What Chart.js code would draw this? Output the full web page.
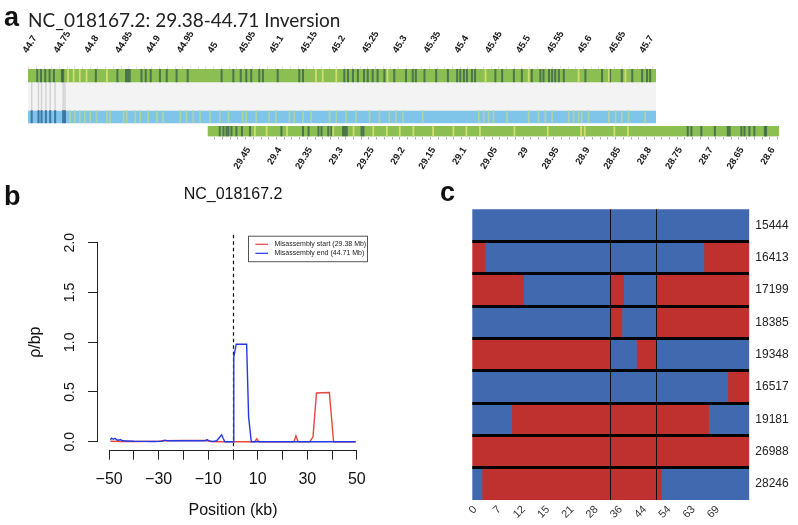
<!DOCTYPE html>
<html>
<head>
<meta charset="utf-8">
<title>NC_018167.2 inversion</title>
<script src="https://cdn.jsdelivr.net/npm/chart.js@4.4.1/dist/chart.umd.min.js"></script>
<style>
  html, body { margin: 0; padding: 0; background: #fff; }
  body { position: relative; width: 798px; height: 525px; overflow: hidden; font-family: "Liberation Sans", Arial, sans-serif; }
  .box { position: absolute; }
  .tag { position: absolute; z-index: 2; font-weight: bold; font-size: 27px; line-height: 27px; color: #111; }
</style>
</head>
<body>
<div class="box" style="left:0;top:0;width:798px;height:180px"><canvas id="trackChart"></canvas></div>
<div class="box" style="left:0;top:180px;width:440px;height:345px"><canvas id="rhoChart"></canvas></div>
<div class="box" style="left:440px;top:180px;width:358px;height:345px"><canvas id="haploChart"></canvas></div>
<div class="tag" style="left:4px;top:4px">a</div>
<div class="tag" style="left:4px;top:183px">b</div>
<div class="tag" style="left:440px;top:179px">c</div>
<script>
// ---------- panel a: alignment tracks (Mb) ----------
const topTickLabels = ['44.7', '44.75', '44.8', '44.85', '44.9', '44.95', '45', '45.05', '45.1', '45.15',
  '45.2', '45.25', '45.3', '45.35', '45.4', '45.45', '45.5', '45.55', '45.6', '45.65', '45.7'];
const bottomTickLabels = ['29.45', '29.4', '29.35', '29.3', '29.25', '29.2', '29.15', '29.1', '29.05', '29',
  '28.95', '28.9', '28.85', '28.8', '28.75', '28.7', '28.65', '28.6'];
const topSpan = [44.699, 45.717];
const bottomSpan = [28.585, 29.511];

const topDark = [44.714, 44.720, 44.727, 44.734, 44.741, 44.754, 44.756, 44.809, 44.844, 44.858, 44.861,
  44.864, 44.883, 44.890, 44.898, 44.913, 44.924, 44.940, 44.958, 45.013, 45.032, 45.044, 45.053, 45.061,
  45.074, 45.080, 45.104, 45.139, 45.145, 45.212, 45.218, 45.226, 45.234, 45.244, 45.250, 45.258, 45.266,
  45.277, 45.293, 45.312, 45.323, 45.328, 45.342, 45.361, 45.380, 45.395, 45.400, 45.406, 45.411, 45.419,
  45.424, 45.457, 45.468, 45.487, 45.500, 45.516, 45.530, 45.535, 45.544, 45.549, 45.554, 45.560, 45.568,
  45.603, 45.630, 45.643, 45.662, 45.679, 45.695, 45.703, 45.708];
const topLight = [44.764, 44.773, 44.783, 44.794, 44.827, 45.166, 45.177, 45.199, 45.282, 45.441, 45.511,
  45.592, 45.641, 45.668];
const blueDark = [44.705, 44.716, 44.721, 44.728, 44.735, 44.743, 44.756, 44.759];
const blueLight = [44.767, 44.775, 44.783, 44.791, 44.800, 44.810, 44.827, 44.832, 44.854, 44.859, 44.873,
  44.881, 44.894, 44.908, 44.918, 44.946, 44.956, 44.967, 44.978, 44.994, 45.010, 45.024, 45.047, 45.053,
  45.069, 45.090, 45.101, 45.123, 45.131, 45.145, 45.158, 45.188, 45.199, 45.215, 45.231, 45.253, 45.269,
  45.285, 45.296, 45.307, 45.339, 45.430, 45.438, 45.446, 45.454, 45.476, 45.511, 45.527, 45.538, 45.549,
  45.576, 45.584, 45.592, 45.597, 45.608, 45.641, 45.652, 45.662, 45.673, 45.700];
const linkPos = [44.705, 44.716, 44.721, 44.728, 44.735, 44.743, 44.756, 44.759];
const bottomDark = [29.492, 29.486, 29.481, 29.478, 29.473, 29.465, 29.456, 29.443, 29.392, 29.357, 29.348,
  29.332, 29.327, 29.316, 29.311, 29.292, 29.289, 29.286, 29.262, 29.259, 28.733, 28.727, 28.711, 28.689,
  28.668, 28.665, 28.646, 28.641, 28.633, 28.625, 28.608, 28.606];
const bottomLight = [29.435, 29.416, 29.383, 29.308, 29.275, 29.243, 29.221, 29.200, 29.178, 29.146, 29.113,
  29.092, 29.070, 29.014, 28.960, 28.906, 28.900, 28.852, 28.830];

// ---------- panel b: rho per bp around the breakpoints ----------
const posStart = [-49.5, -45, -40, -30, -28.5, -20, -11, -9, -5, 0, 8.8, 9.6, 10.4, 24.6, 25.4, 26.3, 31,
  32.3, 33.7, 38.9, 40.6, 45, 49.5];
const rhoStart = [0.005, 0.003, 0.002, 0.004, 0.01, 0.012, 0.012, 0.002, 0, 0, 0, 0.03, 0, 0, 0.06, 0, 0,
  0.05, 0.49, 0.495, 0, 0, 0];
const posEnd = [-49.5, -49, -48.3, -47.6, -47, -46.2, -45.4, -44.6, -43, -40, -36, -32, -28.6, -27.6, -26.6,
  -20, -15, -11.2, -10.5, -9.7, -8, -6.6, -5.4, -4.6, -3.9, -3.3, -1, 0, 0.3, 1.3, 5.5, 6.3, 7.4, 12, 20,
  30, 40, 49.5];
const rhoEnd = [0.02, 0.035, 0.025, 0.035, 0.02, 0.015, 0.022, 0.01, 0.008, 0.005, 0.004, 0.003, 0.005,
  0.016, 0.01, 0.01, 0.01, 0.01, 0.022, 0.008, 0.003, 0.01, 0.045, 0.07, 0.03, 0, 0, 0, 0.85, 0.98, 0.98,
  0.25, 0, 0, 0, 0, 0, 0];
const positionTicks = [-50, -40, -30, -20, -10, 0, 10, 20, 30, 40, 50];
const positionLabels = [-50, -30, -10, 10, 30, 50];
const rhoTicks = [0, 0.5, 1, 1.5, 2];

// ---------- panel c: haplotype blocks per sample ----------
const sampleIds = ['15444', '16413', '17199', '18385', '19348', '16517', '19181', '26988', '28246'];
const markerLabels = ['0', '7', '12', '15', '21', '28', '36', '44', '54', '63', '69'];
const markerStep = 7;
const markerCount = 80;
const haplotypeBlocks = [
  [[0, 80, 'B']],
  [[0, 3.9, 'R'], [3.9, 66.9, 'B'], [66.9, 80, 'R']],
  [[0, 15, 'R'], [15, 40, 'B'], [40, 43.9, 'R'], [43.9, 53.2, 'B'], [53.2, 80, 'R']],
  [[0, 40, 'B'], [40, 43.4, 'R'], [43.4, 53.2, 'B'], [53.2, 80, 'R']],
  [[0, 40, 'R'], [40, 47.4, 'B'], [47.4, 53.2, 'R'], [53.2, 80, 'B']],
  [[0, 73.8, 'B'], [73.8, 80, 'R']],
  [[0, 11.4, 'B'], [11.4, 68.5, 'R'], [68.5, 80, 'B']],
  [[0, 80, 'R']],
  [[0, 2.8, 'B'], [2.8, 54.8, 'R'], [54.8, 80, 'B']]
];
const breakpoints = [40, 53.2];

Chart.defaults.font.family = '"Liberation Sans", Arial, sans-serif';
Chart.defaults.animation = false;
Chart.defaults.plugins.legend.display = false;
Chart.defaults.plugins.tooltip.enabled = false;

// ---------- panel a chart ----------
function buildTicks(labels, from, to, step) {
  const ticks = [];
  for (let k = 0; from + k * step <= to + 1e-9; k++) {
    const value = +(from + k * step).toFixed(4);
    const idx = labels.findIndex(l => Math.abs(Number(l) - value) < 1e-6);
    ticks.push({ value, text: idx >= 0 ? labels[idx] : '' });
  }
  return ticks;
}

function blockBar(span, row, thickness, color, axis) {
  return { data: [{ x: span, y: row }], backgroundColor: color, barThickness: thickness,
    grouped: false, xAxisID: axis, order: 2 };
}

function stripeBars(positions, row, thickness, color, axis, half) {
  return { data: positions.map(p => ({ x: [p - half, p + half], y: row })), backgroundColor: color,
    barThickness: thickness, grouped: false, xAxisID: axis, order: 1 };
}

new Chart(document.getElementById('trackChart'), {
  type: 'bar',
  data: {
    datasets: [
      blockBar(topSpan, 6.5, 13, '#8DBE52', 'x'),
      blockBar(topSpan, 27.2, 28.4, '#F3F3F3', 'x'),
      blockBar(topSpan, 47.6, 12.6, '#7FC4E9', 'x'),
      blockBar(bottomSpan, 62.3, 10, '#8DBE52', 'x2'),
      stripeBars(topLight, 6.5, 13, 'rgba(214,226,112,0.9)', 'x', 0.0009),
      stripeBars(topDark, 6.5, 13, 'rgba(48,92,72,0.72)', 'x', 0.0011),
      stripeBars(linkPos, 27.2, 28.4, 'rgba(160,160,160,0.4)', 'x', 0.0006),
      stripeBars(blueLight, 47.6, 12.6, 'rgba(185,214,150,0.85)', 'x', 0.0008),
      stripeBars(blueDark, 47.6, 12.6, 'rgba(40,92,140,0.75)', 'x', 0.0011),
      stripeBars(bottomLight, 62.3, 10, 'rgba(214,226,112,0.9)', 'x2', 0.0009),
      stripeBars(bottomDark, 62.3, 10, 'rgba(48,92,72,0.72)', 'x2', 0.0011)
    ]
  },
  options: {
    indexAxis: 'y',
    responsive: true,
    maintainAspectRatio: false,
    layout: { padding: { left: 28, right: 19, top: 0, bottom: 0 } },
    plugins: {
      title: {
        display: true, align: 'start', text: 'NC_018167.2: 29.38-44.71 Inversion', color: '#222',
        font: { family: 'Lato', size: 19, weight: 'normal' }, padding: { top: 9.2, bottom: 0 }
      }
    },
    scales: {
      x: {
        type: 'linear', position: 'top', min: 44.699, max: 45.917,
        afterBuildTicks: s => { s.ticks = buildTicks(topTickLabels, 44.7, 45.7125, 0.0125); },
        afterFit: s => { s.height = 37; s.paddingLeft = 0; s.paddingRight = 0; },
        border: { display: false },
        grid: { drawOnChartArea: false, drawTicks: true, tickLength: 3, color: '#dedede', lineWidth: 0.8 },
        ticks: {
          autoSkip: false, minRotation: 58, maxRotation: 58, padding: 10.8, labelOffset: 6.2,
          color: '#1a1a1a', font: { size: 9.5, weight: 'bold' }, callback: (v, i, t) => t[i].text
        }
      },
      x2: {
        type: 'linear', position: 'bottom', reverse: true, min: 28.585, max: 29.803,
        afterBuildTicks: s => { s.ticks = buildTicks(bottomTickLabels, 28.5875, 29.5, 0.0125); },
        afterFit: s => { s.height = 43.5; s.paddingLeft = 0; s.paddingRight = 0; },
        border: { display: false },
        grid: { drawOnChartArea: false, drawTicks: true, tickLength: 3, color: '#9a9a9a', lineWidth: 0.8 },
        ticks: {
          autoSkip: false, minRotation: 58, maxRotation: 58, padding: 5.7, labelOffset: 3,
          color: '#1a1a1a', font: { size: 9.5, weight: 'bold' }, callback: (v, i, t) => t[i].text
        }
      },
      y: { type: 'linear', min: 0, max: 67.5, reverse: true, offset: false, display: false }
    }
  }
});

// ---------- panel b chart ----------
const fmtMinus = v => (v < 0 ? '\u2212' + Math.abs(v) : String(v));

const rStyle = {
  id: 'rStyle',
  beforeDatasetsDraw(chart) {
    const { ctx, chartArea: a, scales: { x } } = chart;
    const x0 = Math.round(x.getPixelForValue(0)) + 0.5;
    ctx.save();
    ctx.strokeStyle = '#111';
    ctx.lineWidth = 1.2;
    ctx.setLineDash([3.5, 3]);
    ctx.beginPath();
    ctx.moveTo(x0, a.top);
    ctx.lineTo(x0, a.bottom);
    ctx.stroke();
    ctx.restore();
  },
  afterDatasetsDraw(chart) {
    const { ctx, chartArea: a, scales: { x, y } } = chart;
    ctx.save();
    ctx.strokeStyle = '#222';
    ctx.lineWidth = 1;
    const yb = Math.round(a.bottom) + 0.5;
    const xl = Math.round(a.left) - 0.5;
    ctx.beginPath();
    ctx.moveTo(x.getPixelForValue(positionTicks[0]), yb);
    ctx.lineTo(x.getPixelForValue(positionTicks[positionTicks.length - 1]), yb);
    ctx.moveTo(xl, y.getPixelForValue(rhoTicks[0]));
    ctx.lineTo(xl, y.getPixelForValue(rhoTicks[rhoTicks.length - 1]));
    ctx.stroke();

    // legend, top right of the plot region
    const w = 120, h = 26.5, L = a.right - w, T = a.top + 1;
    ctx.fillStyle = '#fff';
    ctx.fillRect(L, T, w, h);
    ctx.strokeStyle = '#555';
    ctx.strokeRect(L + 0.5, T + 0.5, w - 1, h - 1);
    ctx.font = '7px "Liberation Sans", Arial, sans-serif';
    ctx.textBaseline = 'middle';
    chart.data.datasets.forEach((ds, i) => {
      const yy = T + 8.6 + i * 9;
      ctx.strokeStyle = ds.borderColor;
      ctx.lineWidth = 1.2;
      ctx.beginPath();
      ctx.moveTo(L + 7.4, yy);
      ctx.lineTo(L + 20, yy);
      ctx.stroke();
      ctx.fillStyle = '#222';
      ctx.fillText(ds.label, L + 26.4, yy);
    });
    ctx.restore();
  }
};

new Chart(document.getElementById('rhoChart'), {
  type: 'line',
  data: {
    datasets: [
      { label: 'Misassembly start (29.38 Mb)', data: posStart.map((p, i) => ({ x: p, y: rhoStart[i] })),
        borderColor: '#E5483C', borderWidth: 1.4, pointRadius: 0, tension: 0, order: 1 },
      { label: 'Misassembly end (44.71 Mb)', data: posEnd.map((p, i) => ({ x: p, y: rhoEnd[i] })),
        borderColor: '#2438E4', borderWidth: 1.4, pointRadius: 0, tension: 0, order: 0 }
    ]
  },
  options: {
    responsive: true,
    maintainAspectRatio: false,
    layout: { padding: { left: 0, right: 72, top: 0, bottom: 0 } },
    plugins: {
      title: {
        display: true, text: 'NC_018167.2', fullSize: false, color: '#111',
        font: { size: 16, weight: 'normal' }, padding: { top: 5.4, bottom: 30.1 }
      }
    },
    scales: {
      x: {
        type: 'linear', min: -54.5, max: 54.5,
        afterBuildTicks: s => { s.ticks = positionTicks.map(v => ({ value: v })); },
        afterFit: s => { s.height = 75.3; s.paddingLeft = 0; s.paddingRight = 0; },
        border: { display: false },
        grid: { drawOnChartArea: false, drawTicks: true, tickLength: 10, color: '#222', lineWidth: 1 },
        ticks: {
          autoSkip: false, maxRotation: 0, padding: 10, color: '#111', font: { size: 16 },
          callback: v => (positionLabels.includes(v) ? fmtMinus(v) : '')
        },
        title: { display: true, text: 'Position (kb)', color: '#111', font: { size: 16 }, padding: { top: 0, bottom: 5 } }
      },
      y: {
        type: 'linear', min: -0.08, max: 2.08,
        afterBuildTicks: s => { s.ticks = rhoTicks.map(v => ({ value: v })); },
        afterFit: s => { s.width = 98; s.paddingTop = 0; s.paddingBottom = 0; },
        border: { display: false },
        grid: { drawOnChartArea: false, drawTicks: true, tickLength: 10, color: '#222', lineWidth: 1 },
        ticks: {
          autoSkip: false, minRotation: 90, maxRotation: 90, crossAlign: 'center', padding: 8,
          color: '#111', font: { size: 14 }, callback: v => v.toFixed(1)
        },
        title: { display: true, text: 'ρ/bp', color: '#111', font: { size: 16 }, padding: { top: 26, bottom: 0 } }
      }
    }
  },
  plugins: [rStyle]
});

// ---------- panel c chart ----------
const stateColor = { B: '#4169AF', R: '#BE312E' };
const blocks = { B: [], R: [] };
haplotypeBlocks.forEach((row, r) => {
  row.forEach(([from, to, state]) => blocks[state].push({ x: [from, to], y: sampleIds[r] }));
});

new Chart(document.getElementById('haploChart'), {
  type: 'bar',
  data: {
    labels: sampleIds,
    datasets: ['B', 'R'].map(s => ({
      data: blocks[s], backgroundColor: stateColor[s], grouped: false,
      barPercentage: 1, categoryPercentage: 1
    }))
  },
  options: {
    indexAxis: 'y',
    responsive: true,
    maintainAspectRatio: false,
    layout: { padding: { left: 32.3, top: 29.3, right: 0, bottom: 0 } },
    scales: {
      x: {
        type: 'linear', position: 'bottom', min: 0, max: markerCount,
        afterBuildTicks: s => { s.ticks = markerLabels.map((t, i) => ({ value: i * markerStep })); },
        afterFit: s => { s.height = 25; s.paddingLeft = 0; s.paddingRight = 0; },
        border: { display: false },
        grid: { display: false, drawTicks: false },
        ticks: {
          autoSkip: false, minRotation: 45, maxRotation: 45, padding: 3, labelOffset: 3,
          color: '#333', font: { size: 11 }, callback: (v, i) => markerLabels[i]
        }
      },
      x2: {
        type: 'linear', position: 'bottom', min: 0, max: markerCount,
        afterBuildTicks: s => { s.ticks = breakpoints.map(v => ({ value: v })); },
        afterFit: s => { s.height = 0; s.paddingLeft = 0; s.paddingRight = 0; },
        border: { display: false },
        ticks: { display: false },
        grid: { drawTicks: false, color: '#111', lineWidth: 1, z: 1 }
      },
      y: {
        type: 'category', position: 'right', offset: true,
        afterFit: s => { s.width = 48.7; s.paddingTop = 0; s.paddingBottom = 0; },
        border: { display: false },
        grid: {
          offset: true, drawTicks: false, lineWidth: 3, z: 1,
          color: c => (c.index === undefined || c.index === 0 ? 'rgba(0,0,0,0)' : '#000')
        },
        ticks: { padding: 6, color: '#222', font: { size: 12 } }
      }
    }
  }
});
</script>
</body>
</html>
